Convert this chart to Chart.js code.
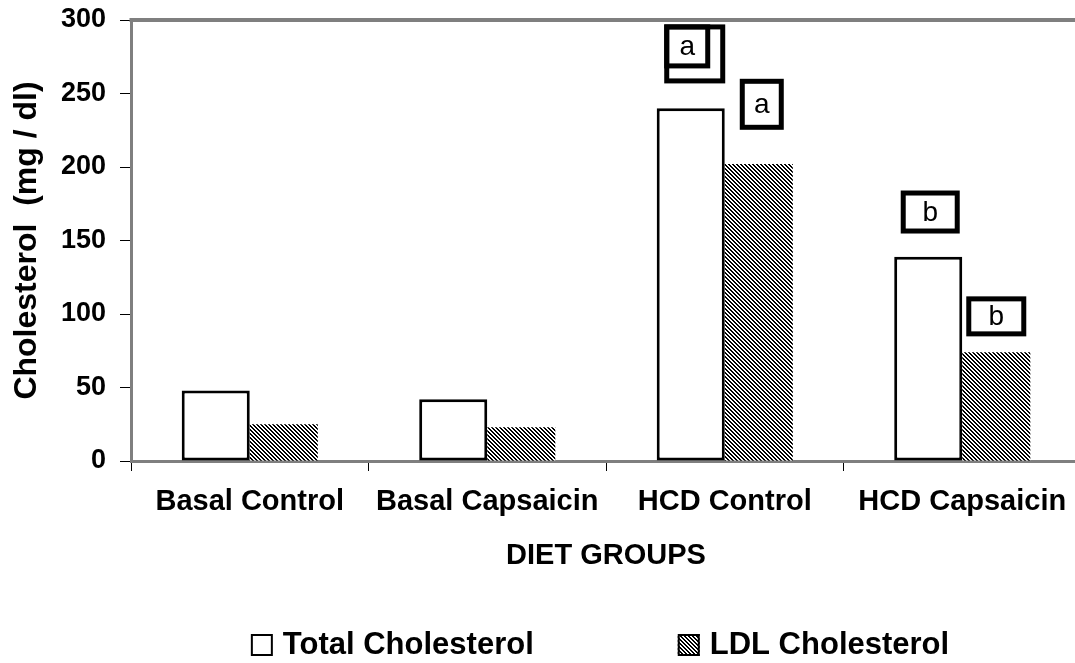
<!DOCTYPE html>
<html>
<head>
<meta charset="utf-8">
<script src="https://cdn.jsdelivr.net/npm/chart.js@4"></script>
<style>
    html, body { margin: 0; padding: 0; background: #fff; overflow: hidden; }
    #wrap { width: 1081px; height: 663px; }
</style>
</head>
<body>
<div id="wrap"><canvas id="cholesterol-chart"></canvas></div>
<script>
//chart values
const GROUPS = ['Basal Control', 'Basal Capsaicin', 'HCD Control', 'HCD Capsaicin'];
const TOTAL_CHOLESTEROL = [48, 42, 240, 139];
const LDL_CHOLESTEROL = [25, 23, 202, 74];
const SERIES_LABELS = ['Total Cholesterol', 'LDL Cholesterol'];
const Y_TICKS = [0, 50, 100, 150, 200, 250, 300];

//significance letters: group index, series index, value at the top of the box
const NOTE_LETTERS = ['a', 'a', 'b', 'b'];
const NOTE_GROUPS = [2, 2, 3, 3];
const NOTE_SERIES = [0, 1, 0, 1];
const NOTE_TOPS = [297, 260, 184, 112];

//graphic components
const FONT = "'Liberation Sans', Arial, sans-serif";
const AXIS_GRAY = '#7f7f7f';
const NOTE_BOXES = [
    {dx: 4, w: 61, h: 59, inner: {w: 46, h: 44}},
    {dx: 3, w: 44, h: 51},
    {dx: 2, w: 59, h: 43},
    {dx: 0, w: 60, h: 40},
];

function createHatch() {
    const size = 4;
    const c = document.createElement('canvas');
    c.width = size;
    c.height = size;
    const cx = c.getContext('2d');
    const img = cx.createImageData(size, size);
    for (let y = 0; y < size; y++) {
        for (let x = 0; x < size; x++) {
            const k = (((x - y) % size) + size) % size;
            const v = k < 2 ? 0 : 255;
            const i = (y * size + x) * 4;
            img.data[i] = v;
            img.data[i + 1] = v;
            img.data[i + 2] = v;
            img.data[i + 3] = 255;
        }
    }
    cx.putImageData(img, 0, 0);
    return cx.createPattern(c, 'repeat');
}

const frameAndNotes = {
    id: 'frameAndNotes',
    afterDatasetsDraw(chart) {
        const ctx = chart.ctx;
        const area = chart.chartArea;
        ctx.save();
        //top edge of the plot frame
        ctx.strokeStyle = AXIS_GRAY;
        ctx.lineWidth = 4;
        ctx.beginPath();
        ctx.moveTo(area.left - 1.5, area.top);
        ctx.lineTo(area.right, area.top);
        ctx.stroke();

        //letter boxes above the bars
        const y = chart.scales.y;
        ctx.strokeStyle = '#000';
        ctx.lineWidth = 5;
        ctx.font = '28px ' + FONT;
        ctx.textAlign = 'center';
        ctx.textBaseline = 'middle';
        NOTE_LETTERS.forEach((letter, i) => {
            const bar = chart.getDatasetMeta(NOTE_SERIES[i]).data[NOTE_GROUPS[i]];
            const box = NOTE_BOXES[i];
            const cx = bar.x + box.dx;
            const top = y.getPixelForValue(NOTE_TOPS[i]);
            const left = cx - box.w / 2;
            ctx.fillStyle = '#fff';
            ctx.fillRect(left, top, box.w, box.h);
            ctx.strokeRect(left + 2.5, top + 2.5, box.w - 5, box.h - 5);
            let tx = cx, ty = top + box.h / 2;
            if (box.inner) {
                ctx.strokeRect(left + 2.5, top + 2.5, box.inner.w - 5, box.inner.h - 5);
                tx = left + box.inner.w / 2;
                ty = top + box.inner.h / 2;
            }
            ctx.fillStyle = '#000';
            ctx.fillText(letter, tx, ty + 1);
        });
        ctx.restore();
    },
    afterDraw(chart) {
        //legend under the axis title
        const ctx = chart.ctx;
        const area = chart.chartArea;
        const sets = chart.data.datasets;
        ctx.save();
        ctx.font = 'bold 31px ' + FONT;
        ctx.textBaseline = 'middle';
        ctx.textAlign = 'left';
        const boxSize = 22, boxGap = 10, itemGap = 144;
        const widths = sets.map(ds => boxSize + boxGap + ctx.measureText(ds.label).width);
        const total = widths.reduce((a, b) => a + b, 0) + itemGap * (sets.length - 1);
        let x = (area.left + area.right) / 2 - total / 2 - 6;
        const yMid = 645;
        sets.forEach((ds, i) => {
            ctx.fillStyle = ds.backgroundColor;
            ctx.fillRect(x, yMid - boxSize / 2, boxSize, boxSize);
            ctx.strokeStyle = '#000';
            ctx.lineWidth = 2;
            ctx.strokeRect(x + 1, yMid - boxSize / 2 + 1, boxSize - 2, boxSize - 2);
            ctx.fillStyle = '#000';
            ctx.fillText(ds.label, x + boxSize + boxGap, yMid);
            x += widths[i] + itemGap;
        });
        ctx.restore();
    }
};

function initConfig() {
    return {
        type: 'bar',
        data: {
            labels: GROUPS,
            datasets: [
                {
                    label: SERIES_LABELS[0],
                    data: TOTAL_CHOLESTEROL,
                    backgroundColor: '#ffffff',
                    borderColor: '#000000',
                    borderWidth: 3,
                    borderSkipped: false,
                },
                {
                    label: SERIES_LABELS[1],
                    data: LDL_CHOLESTEROL,
                    backgroundColor: createHatch(),
                    borderWidth: 0,
                },
            ]
        },
        options: {
            responsive: true,
            maintainAspectRatio: false,
            animation: false,
            categoryPercentage: 0.573,
            barPercentage: 1.0,
            layout: {
                padding: {top: 20, bottom: 90, left: 0, right: 0}
            },
            plugins: {
                legend: {display: false},
                tooltip: {enabled: false},
            },
            scales: {
                x: {
                    offset: true,
                    afterFit: scale => { scale.height = 112; },
                    grid: {
                        offset: true,
                        drawOnChartArea: false,
                        color: '#000',
                        tickLength: 10,
                    },
                    border: {color: AXIS_GRAY, width: 3},
                    ticks: {
                        color: '#000',
                        padding: 14,
                        maxRotation: 0,
                        autoSkip: false,
                        font: {family: FONT, size: 29, weight: 'bold'},
                    },
                    title: {
                        display: true,
                        text: 'DIET GROUPS',
                        color: '#000',
                        padding: 0,
                        font: {family: FONT, size: 29, weight: 'bold'},
                    },
                },
                y: {
                    min: Y_TICKS[0],
                    max: Y_TICKS[Y_TICKS.length - 1],
                    afterFit: scale => {
                        scale.width = 131;
                        scale.paddingTop = 0;
                        scale.paddingBottom = 0;
                    },
                    afterBuildTicks: scale => { scale.ticks = Y_TICKS.map(v => ({value: v})); },
                    grid: {
                        drawOnChartArea: false,
                        color: '#000',
                        tickLength: 11,
                    },
                    border: {color: AXIS_GRAY, width: 3},
                    ticks: {
                        color: '#000',
                        padding: 14,
                        font: {family: FONT, size: 27, weight: 'bold'},
                    },
                    title: {
                        display: true,
                        text: 'Cholesterol  (mg / dl)',
                        color: '#000',
                        padding: {top: 8, bottom: 8},
                        font: {family: FONT, size: 32, weight: 'bold'},
                    },
                },
            },
        },
        plugins: [frameAndNotes],
    };
}

const cholesterolChart = new Chart(document.getElementById('cholesterol-chart'), initConfig());
</script>
</body>
</html>
